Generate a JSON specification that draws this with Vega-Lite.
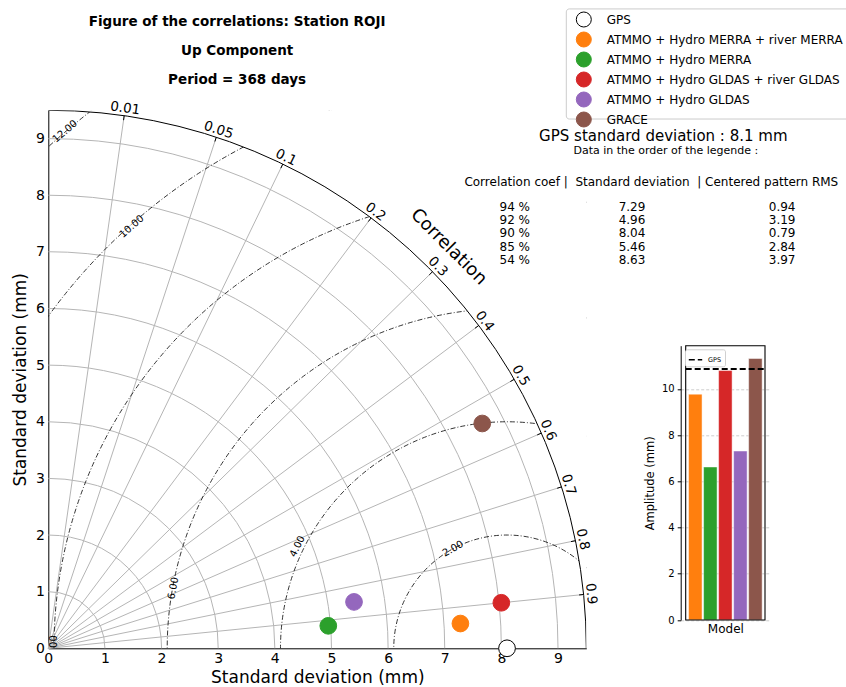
{
  "$schema": "https://vega.github.io/schema/vega-lite/v6.json",
  "width": 538,
  "height": 538,
  "autosize": {"type": "none"},
  "padding": {"left": 48.3, "top": 110.3, "right": 259.7, "bottom": 38.7},
  "config": {"view": {"stroke": null}, "font": "DejaVu Sans", "aria": false, "mark": {"aria": false}, "text": {"font": "DejaVu Sans", "color": "black"}},
  "datasets": {
    "models": [
      {"name": "ATMMO + Hydro MERRA + river MERRA", "corr": 0.94, "corrText": "94 %", "std": 7.29, "rms": 0.94, "px": 7.2769, "py": 0.4374, "idx": 1, "amp": 9.77},
      {"name": "ATMMO + Hydro MERRA", "corr": 0.92, "corrText": "92 %", "std": 4.96, "rms": 3.19, "px": 4.9441, "py": 0.3968, "idx": 2, "amp": 6.62},
      {"name": "ATMMO + Hydro GLDAS + river GLDAS", "corr": 0.90, "corrText": "90 %", "std": 8.04, "rms": 0.79, "px": 7.9997, "py": 0.804, "idx": 3, "amp": 10.79},
      {"name": "ATMMO + Hydro GLDAS", "corr": 0.85, "corrText": "85 %", "std": 5.46, "rms": 2.84, "px": 5.3983, "py": 0.819, "idx": 4, "amp": 7.31},
      {"name": "GRACE", "corr": 0.54, "corrText": "54 %", "std": 8.63, "rms": 3.97, "px": 7.6627, "py": 3.9698, "idx": 5, "amp": 11.31}
    ],
    "gps": [{"name": "GPS", "std": 8.1, "px": 8.1, "py": 0, "amp": 10.86}],
    "stdCircles": [{"r": 1}, {"r": 2}, {"r": 3}, {"r": 4}, {"r": 5}, {"r": 6}, {"r": 7}, {"r": 8}, {"r": 9}],
    "outer": [{"r": 9.5}],
    "mask": [{"r": 12.5}],
    "rmsLevels": [{"level": 2}, {"level": 4}, {"level": 6}, {"level": 8}, {"level": 10}, {"level": 12}],
    "rmsLabels": [
      {"level": 2, "x": 7.146, "y": 1.758, "phi": 118.5},
      {"level": 4, "x": 4.40, "y": 1.80, "phi": 154},
      {"level": 6, "x": 2.208, "y": 1.06, "phi": 169.8},
      {"level": 8, "x": 0.10, "y": 0.035, "phi": 180},
      {"level": 10, "x": 1.473, "y": 7.449, "phi": 131.7},
      {"level": 12, "x": 0.295, "y": 9.127, "phi": 130.5}
    ],
    "corrTicks": [
      {"c": 0.01, "xe": 1.3402, "ye": 9.405, "xi": 1.3289, "yi": 9.3258, "xl": 1.3585, "yl": 9.5337, "deg": 81.89},
      {"c": 0.05, "xe": 2.9664, "ye": 9.025, "xi": 2.9414, "yi": 8.949, "xl": 3.0070, "yl": 9.1485, "deg": 71.81},
      {"c": 0.1, "xe": 4.1410, "ye": 8.55, "xi": 4.1061, "yi": 8.478, "xl": 4.1976, "yl": 8.667, "deg": 64.16},
      {"c": 0.2, "xe": 5.7, "ye": 7.6, "xi": 5.652, "yi": 7.536, "xl": 5.778, "yl": 7.704, "deg": 53.13},
      {"c": 0.3, "xe": 6.7843, "ye": 6.65, "xi": 6.7272, "yi": 6.594, "xl": 6.8772, "yl": 6.741, "deg": 44.43},
      {"c": 0.4, "xe": 7.6, "ye": 5.7, "xi": 7.536, "yi": 5.652, "xl": 7.704, "yl": 5.778, "deg": 36.87},
      {"c": 0.5, "xe": 8.2272, "ye": 4.75, "xi": 8.1580, "yi": 4.71, "xl": 8.3399, "yl": 4.815, "deg": 30.0},
      {"c": 0.6, "xe": 8.7069, "ye": 3.8, "xi": 8.6336, "yi": 3.768, "xl": 8.8261, "yl": 3.852, "deg": 23.58},
      {"c": 0.7, "xe": 9.0624, "ye": 2.85, "xi": 8.9861, "yi": 2.826, "xl": 9.1864, "yl": 2.889, "deg": 17.46},
      {"c": 0.8, "xe": 9.3081, "ye": 1.9, "xi": 9.2297, "yi": 1.884, "xl": 9.4355, "yl": 1.926, "deg": 11.54},
      {"c": 0.9, "xe": 9.4524, "ye": 0.95, "xi": 9.3728, "yi": 0.942, "xl": 9.5818, "yl": 0.963, "deg": 5.74}
    ]
  },
  "layer": [
    {
      "layer": [
        {
          "data": {"name": "stdCircles"},
          "mark": {"type": "point", "shape": "circle", "filled": false, "stroke": "#b5b5b5", "strokeWidth": 1, "opacity": 1, "clip": true},
          "encoding": {
            "x": {"datum": 0, "type": "quantitative", "scale": {"domain": [0, 9.5], "nice": false, "zero": true},
              "axis": {"orient": "bottom", "values": [0,1,2,3,4,5,6,7,8,9], "format": "d", "title": "Standard deviation (mm)", "titleFontSize": 17, "titleFontWeight": "normal", "titleColor": "black", "labelFontSize": 14, "labelColor": "black", "ticks": false, "tickSize": 0, "labelPadding": 3, "labelFlush": false, "labelOverlap": false, "domainColor": "black", "grid": false, "titlePadding": 4}},
            "y": {"datum": 0, "type": "quantitative", "scale": {"domain": [0, 9.5], "nice": false, "zero": true},
              "axis": {"orient": "left", "values": [0,1,2,3,4,5,6,7,8,9], "format": "d", "title": "Standard deviation (mm)", "titleFontSize": 17, "titleFontWeight": "normal", "titleColor": "black", "labelFontSize": 14, "labelColor": "black", "ticks": false, "tickSize": 0, "labelPadding": 4, "labelFlush": false, "labelOverlap": false, "domainColor": "black", "grid": false, "titlePadding": 6}},
            "size": {"field": "r", "type": "quantitative", "scale": {"type": "pow", "exponent": 2, "domain": [0, 12], "range": [0, 1847425]}, "legend": null}
          }
        },
        {
          "data": {"name": "corrTicks"},
          "mark": {"type": "rule", "color": "#b5b5b5", "strokeWidth": 1},
          "encoding": {
            "x": {"field": "xe", "type": "quantitative"},
            "y": {"field": "ye", "type": "quantitative"},
            "x2": {"datum": 0},
            "y2": {"datum": 0}
          }
        },
        {
          "data": {"name": "rmsLevels"},
          "mark": {"type": "point", "shape": "circle", "filled": false, "stroke": "black", "strokeWidth": 0.8, "strokeDash": [5, 2, 1, 2], "opacity": 1, "clip": true},
          "encoding": {
            "x": {"datum": 8.1, "type": "quantitative"},
            "y": {"datum": 0, "type": "quantitative"},
            "size": {"field": "level", "type": "quantitative", "legend": null}
          }
        },
        {
          "data": {"name": "mask"},
          "mark": {"type": "point", "shape": "circle", "filled": false, "stroke": "white", "strokeWidth": 340, "opacity": 1, "clip": true},
          "encoding": {
            "x": {"datum": 0, "type": "quantitative"},
            "y": {"datum": 0, "type": "quantitative"},
            "size": {"field": "r", "type": "quantitative", "legend": null}
          }
        },
        {
          "data": {"name": "outer"},
          "mark": {"type": "point", "shape": "circle", "filled": false, "stroke": "black", "strokeWidth": 1, "opacity": 1, "clip": true},
          "encoding": {
            "x": {"datum": 0, "type": "quantitative"},
            "y": {"datum": 0, "type": "quantitative"},
            "size": {"field": "r", "type": "quantitative", "legend": null}
          }
        },
        {
          "data": {"name": "corrTicks"},
          "mark": {"type": "rule", "color": "black", "strokeWidth": 1},
          "encoding": {
            "x": {"field": "xi", "type": "quantitative"},
            "y": {"field": "yi", "type": "quantitative"},
            "x2": {"field": "xe"},
            "y2": {"field": "ye"}
          }
        },
        {
          "data": {"name": "corrTicks"},
          "mark": {"type": "text", "fontSize": 13.5, "align": "center", "baseline": "middle"},
          "encoding": {
            "x": {"field": "xl", "type": "quantitative"},
            "y": {"field": "yl", "type": "quantitative"},
            "text": {"field": "c", "type": "nominal"},
            "angle": {"field": "deg", "type": "quantitative", "scale": {"domain": [0, 180], "range": [90, -90]}}
          }
        },
        {
          "data": {"name": "rmsLabels"},
          "mark": {"type": "text", "fontSize": 10, "align": "center", "baseline": "middle", "clip": true},
          "encoding": {
            "x": {"field": "x", "type": "quantitative"},
            "y": {"field": "y", "type": "quantitative"},
            "text": {"field": "level", "type": "quantitative", "format": ".2f"},
            "angle": {"field": "phi", "type": "quantitative"}
          }
        },
        {
          "data": {"values": [{}]},
          "mark": {"type": "text", "fontSize": 18, "angle": 45, "align": "center", "baseline": "middle", "text": "Correlation"},
          "encoding": {"x": {"datum": 7.067, "type": "quantitative"}, "y": {"datum": 7.085, "type": "quantitative"}}
        },
        {
          "data": {"name": "gps"},
          "mark": {"type": "point", "shape": "circle", "filled": true, "size": 279, "strokeWidth": 1, "opacity": 1},
          "encoding": {
            "x": {"field": "px", "type": "quantitative"},
            "y": {"field": "py", "type": "quantitative"},
            "fill": {"field": "name", "type": "nominal",
              "scale": {"domain": ["GPS", "ATMMO + Hydro MERRA + river MERRA", "ATMMO + Hydro MERRA", "ATMMO + Hydro GLDAS + river GLDAS", "ATMMO + Hydro GLDAS", "GRACE"], "range": ["white", "#ff7f0e", "#2ca02c", "#d62728", "#9467bd", "#8c564b"]},
              "legend": {"orient": "none", "legendX": 527.5, "legendY": -98.8, "title": null, "symbolType": "circle", "symbolSize": 225, "symbolStrokeWidth": 1, "labelFontSize": 12, "labelColor": "black", "labelOffset": 15, "rowPadding": 0, "padding": 0, "labelLimit": 400}},
            "stroke": {"field": "name", "type": "nominal",
              "scale": {"domain": ["GPS", "ATMMO + Hydro MERRA + river MERRA", "ATMMO + Hydro MERRA", "ATMMO + Hydro GLDAS + river GLDAS", "ATMMO + Hydro GLDAS", "GRACE"], "range": ["black", "#ff7f0e", "#2ca02c", "#d62728", "#9467bd", "#8c564b"]},
              "legend": {"orient": "none", "legendX": 527.5, "legendY": -98.8, "title": null, "symbolType": "circle", "symbolSize": 225, "symbolStrokeWidth": 1, "labelFontSize": 12, "labelColor": "black", "labelOffset": 15, "rowPadding": 0, "padding": 0, "labelLimit": 400}}
          }
        },
        {
          "data": {"name": "models"},
          "mark": {"type": "point", "shape": "circle", "filled": true, "size": 279, "strokeWidth": 1, "opacity": 1},
          "encoding": {
            "x": {"field": "px", "type": "quantitative"},
            "y": {"field": "py", "type": "quantitative"},
            "fill": {"field": "name", "type": "nominal"},
            "stroke": {"field": "name", "type": "nominal"}
          }
        },
        {
          "data": {"values": [{}]},
          "mark": {"type": "rect", "fill": "white", "stroke": "#cccccc", "strokeWidth": 1, "cornerRadius": 3},
          "encoding": {"x": {"datum": 9.147, "type": "quantitative"}, "x2": {"datum": 15.5}, "y": {"datum": 11.29, "type": "quantitative"}, "y2": {"datum": 9.346}}
        },
        {
          "data": {"values": [{}]},
          "mark": {"type": "text", "fontSize": 13.5, "fontWeight": "bold", "align": "center", "baseline": "middle", "text": "Figure of the correlations: Station ROJI"},
          "encoding": {"x": {"datum": 3.334, "type": "quantitative"}, "y": {"datum": 11.053, "type": "quantitative"}}
        },
        {
          "data": {"values": [{}]},
          "mark": {"type": "text", "fontSize": 13.5, "fontWeight": "bold", "align": "center", "baseline": "middle", "text": "Up Component"},
          "encoding": {"x": {"datum": 3.334, "type": "quantitative"}, "y": {"datum": 10.541, "type": "quantitative"}}
        },
        {
          "data": {"values": [{}]},
          "mark": {"type": "text", "fontSize": 13.5, "fontWeight": "bold", "align": "center", "baseline": "middle", "text": "Period = 368 days"},
          "encoding": {"x": {"datum": 3.334, "type": "quantitative"}, "y": {"datum": 10.028, "type": "quantitative"}}
        },
        {
          "data": {"values": [{}]},
          "mark": {"type": "text", "fontSize": 15, "align": "center", "baseline": "middle", "text": "GPS standard deviation : 8.1 mm"},
          "encoding": {"x": {"datum": 10.860, "type": "quantitative"}, "y": {"datum": 9.050, "type": "quantitative"}}
        },
        {
          "data": {"values": [{}]},
          "mark": {"type": "text", "fontSize": 11, "align": "center", "baseline": "middle", "text": "Data in the order of the legende :"},
          "encoding": {"x": {"datum": 10.905, "type": "quantitative"}, "y": {"datum": 8.774, "type": "quantitative"}}
        },
        {
          "data": {"values": [{}]},
          "mark": {"type": "text", "fontSize": 12, "align": "center", "baseline": "middle", "text": "Correlation coef |\u00a0 Standard deviation \u00a0| Centered pattern RMS"},
          "encoding": {"x": {"datum": 10.648, "type": "quantitative"}, "y": {"datum": 8.226, "type": "quantitative"}}
        }
      ]
    },
    {
      "layer": [
        {
          "data": {"name": "models"},
          "mark": {"type": "bar", "orient": "vertical", "width": 13.5, "stroke": "white", "strokeWidth": 0.8, "strokeOpacity": 0.6},
          "encoding": {
            "x": {"field": "idx", "type": "quantitative", "scale": {"domain": [0.36, 5.64], "range": [632.4, 721.7], "nice": false, "zero": false},
              "axis": {"orient": "bottom", "offset": -28.3, "labels": false, "ticks": false, "domain": false, "grid": false, "title": "Model", "titleFontSize": 12, "titleFontWeight": "normal", "titleColor": "black", "titlePadding": 3}},
            "y": {"field": "amp", "type": "quantitative", "scale": {"domain": [0, 11.865], "range": [509.7, 235.4], "nice": false, "zero": true},
              "axis": {"orient": "left", "offset": -632.4, "values": [0, 2, 4, 6, 8, 10], "labelFontSize": 10, "labelColor": "black", "tickSize": 3.5, "tickColor": "black", "labelPadding": 3, "domainColor": "black", "grid": true, "gridDash": [3, 2], "gridColor": "#b0b0b0", "gridOpacity": 0.8, "gridWidth": 0.8, "title": "Amplitude (mm)", "titleFontSize": 11.5, "titleFontWeight": "normal", "titleColor": "black", "titlePadding": 6}},
            "fill": {"field": "name", "type": "nominal"}
          }
        },
        {
          "data": {"values": [{}]},
          "mark": {"type": "rect", "fillOpacity": 0, "stroke": "black", "strokeWidth": 1.1},
          "encoding": {"x": {"datum": 0.36, "type": "quantitative"}, "x2": {"datum": 5.64}, "y": {"datum": 0, "type": "quantitative"}, "y2": {"datum": 11.865}}
        },
        {
          "data": {"name": "gps"},
          "mark": {"type": "rule", "color": "black", "strokeWidth": 2},
          "encoding": {
            "x": {"datum": 0.36, "type": "quantitative"},
            "x2": {"datum": 5.64},
            "y": {"field": "amp", "type": "quantitative"},
            "strokeDash": {"field": "name", "type": "nominal", "scale": {"domain": ["GPS"], "range": [[6, 3]]},
              "legend": {"orient": "none", "legendX": 636.7, "legendY": 239, "title": null, "symbolType": "stroke", "symbolSize": 180, "symbolStrokeWidth": 1.5, "symbolStrokeColor": "black", "labelFontSize": 6.5, "labelColor": "black", "labelOffset": 5, "padding": 3, "strokeColor": "#d0d0d0", "fillColor": "white", "cornerRadius": 2}}
          }
        }
      ]
    },
    {
      "data": {"name": "models"},
      "encoding": {"y": {"field": "name", "type": "nominal", "sort": null, "scale": {"type": "point", "range": [96.4, 149.7], "padding": 0}, "axis": null}},
      "layer": [
        {
          "mark": {"type": "text", "fontSize": 12, "align": "center", "baseline": "middle"},
          "encoding": {"x": {"datum": 8.237, "type": "quantitative", "scale": {"domain": [0, 9.5], "nice": false}, "axis": null}, "text": {"field": "corrText", "type": "nominal"}}
        },
        {
          "mark": {"type": "text", "fontSize": 12, "align": "center", "baseline": "middle"},
          "encoding": {"x": {"datum": 10.307, "type": "quantitative"}, "text": {"field": "std", "type": "quantitative", "format": ".2f"}}
        },
        {
          "mark": {"type": "text", "fontSize": 12, "align": "center", "baseline": "middle"},
          "encoding": {"x": {"datum": 12.958, "type": "quantitative"}, "text": {"field": "rms", "type": "quantitative", "format": ".2f"}}
        }
      ]
    }
  ],
  "resolve": {"scale": {"x": "independent", "y": "independent"}}
}
